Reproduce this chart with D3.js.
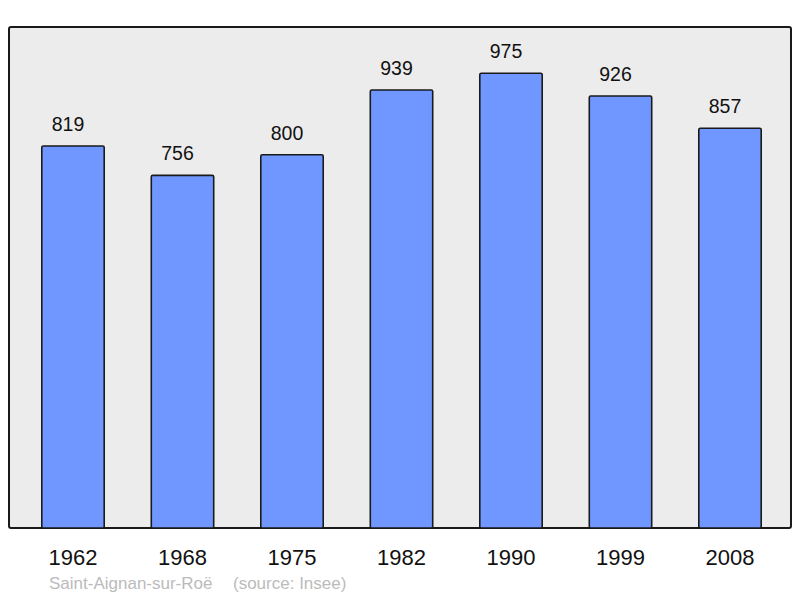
<!DOCTYPE html>
<html>
<head>
<meta charset="utf-8">
<script src="https://cdn.jsdelivr.net/npm/d3@7"></script>
<style>
  body { margin: 0; background: #fff; }
  text { font-family: "Liberation Sans", Arial, sans-serif; }
</style>
</head>
<body>
<div id="chart"></div>
<script>
// population by census year
var years = ["1962", "1968", "1975", "1982", "1990", "1999", "2008"];
var population = [819, 756, 800, 939, 975, 926, 857];
var place = "Saint-Aignan-sur-Roë";
var source = "(source: Insee)";

var width = 800, height = 598;

var svg = d3.select("#chart")
  .append("svg")
  .attr("width", width)
  .attr("height", height);

// grey panel
svg.append("rect")
  .attr("x", 9).attr("y", 27)
  .attr("width", 782).attr("height", 501)
  .attr("rx", 2)
  .style("fill", "#ececec")
  .style("stroke", "#1a1a1a")
  .style("stroke-width", 2);

var x = d3.scaleBand()
  .domain(years)
  .range([18.25, 784.75])
  .paddingInner(0.43)
  .paddingOuter(0.215);

var y = d3.scaleLinear()
  .domain([0, 1074])
  .range([528, 27]);

// bars
svg.append("g")
  .selectAll("rect")
  .data(years)
  .enter()
  .append("rect")
  .attr("x", function (d) { return x(d); })
  .attr("y", function (d, i) { return y(population[i]); })
  .attr("width", x.bandwidth())
  .attr("height", function (d, i) { return y(0) - y(population[i]); })
  .attr("rx", 1.5)
  .style("fill", "#7097ff")
  .style("stroke", "#1a1a1a")
  .style("stroke-width", 1.6);

// value labels (sit a little left of the bar centre in the original)
svg.append("g")
  .selectAll("text")
  .data(years)
  .enter()
  .append("text")
  .attr("x", function (d) { return x(d) + x.bandwidth() / 2 - 5; })
  .attr("y", function (d, i) { return y(population[i]) - 15; })
  .attr("text-anchor", "middle")
  .style("font-size", "19.5px")
  .style("fill", "#111")
  .text(function (d, i) { return population[i]; });

// year axis labels
var xAxis = svg.append("g")
  .attr("transform", "translate(0,528)")
  .call(d3.axisBottom(x).tickSize(0).tickPadding(0));
xAxis.select(".domain").remove();
xAxis.selectAll("text")
  .attr("y", 37)
  .attr("dy", null)
  .style("font-family", "'Liberation Sans', Arial, sans-serif")
  .style("font-size", "22px")
  .style("fill", "#111");

// footer
svg.append("text")
  .attr("x", 49).attr("y", 589)
  .style("font-size", "17px")
  .style("fill", "#bbbbbb")
  .text(place);
svg.append("text")
  .attr("x", 233).attr("y", 589)
  .style("font-size", "17px")
  .style("fill", "#bbbbbb")
  .text(source);
</script>
</body>
</html>
